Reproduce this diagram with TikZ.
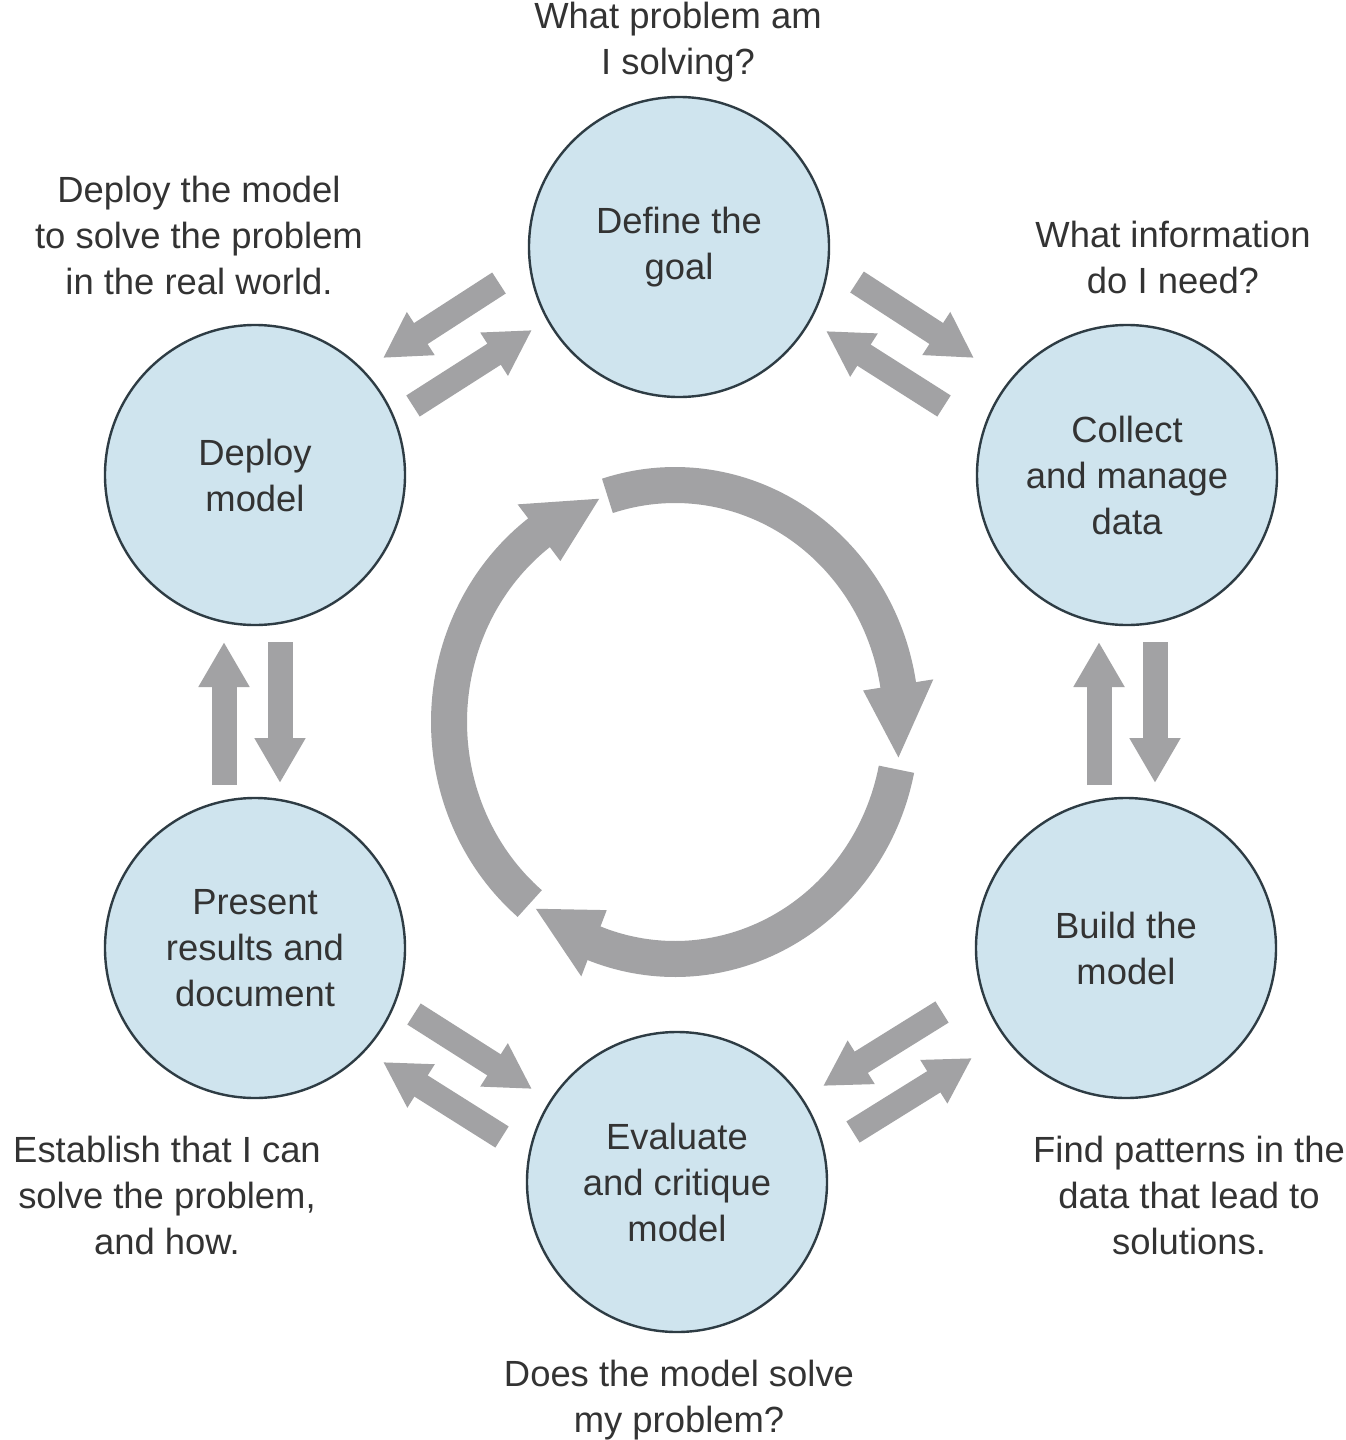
\documentclass[tikz,border=0pt]{standalone}
\usepackage{fontspec}
\setmainfont{Liberation Sans}
\usetikzlibrary{arrows.meta}
\definecolor{cfill}{HTML}{CFE4EE}
\definecolor{cline}{HTML}{2E3C44}
\definecolor{agray}{HTML}{A2A2A4}
\definecolor{txt}{HTML}{333333}
\newcommand\ringarrow[3]{%
  \draw[ring] plot[domain={#2-0.6}:#1, samples=70] ({675+226*cos(\x)},{722-237*sin(\x)});
  \fill[agray] ({675+(226+35.5)*cos(#2)},{722-(237+35.5)*sin(#2)})
    -- ({675+(226-35.5)*cos(#2)},{722-(237-35.5)*sin(#2)})
    -- ({675+226*cos(#3)},{722-237*sin(#3)}) -- cycle;}
\begin{document}
\begin{tikzpicture}[x=0.5pt,y=-0.5pt,
  stage/.style={circle, draw=cline, line width=1.2pt, fill=cfill, minimum size=150pt,
    inner sep=0pt, align=center, text=txt, font=\fontsize{18.2}{23}\selectfont},
  note/.style={align=center, text=txt, font=\fontsize{18.2}{23}\selectfont, inner sep=0pt},
  flow/.style={draw=agray, line width=12.5pt, -{Triangle[width=24pt,length=22.5pt]}},
  ring/.style={draw=agray, line width=18pt},
]
\useasboundingbox (0,0) rectangle (1345,1440);
\fill[white] (0,0) rectangle (1345,1440);

% central cycle
\ringarrow{107.4}{9}{-8.6}
\ringarrow{-11.5}{-111}{-128}
\ringarrow{-130}{-233}{-250.4}

% stages
\node[stage] (goal) at (679,247) {Define the\\goal};
\node[stage] (collect) at (1127,475) {Collect\\and manage\\data};
\node[stage] (build) at (1126,948) {Build the\\model};
\node[stage] (eval) at (677,1182) {Evaluate\\and critique\\model};
\node[stage] (present) at (255,948) {Present\\results and\\document};
\node[stage] (deploy) at (255,475) {Deploy\\model};

% notes
\node[note] (qgoal) at (678,42) {What problem am\\I solving?};
\node[note] (qdeploy) at (199,235) {Deploy the model\\to solve the problem\\in the real world.};
\node[note] (qcollect) at (1173,257) {What information\\do I need?};
\node[note] (qpresent) at (167,1195) {Establish that I can\\solve the problem,\\and how.};
\node[note] (qbuild) at (1189,1195) {Find patterns in the\\data that lead to\\solutions.};
\node[note] (qeval) at (679,1400) {Does the model solve\\my problem?};

% arrow end points
\coordinate (a1s) at (499,283);  \coordinate (a1e) at (383,358);
\coordinate (a2s) at (413,406);  \coordinate (a2e) at (532,330);
\coordinate (a3s) at (857,282);  \coordinate (a3e) at (974,358);
\coordinate (a4s) at (944,406);  \coordinate (a4e) at (826,331);
\coordinate (a5s) at (1099,785); \coordinate (a5e) at (1099,642);
\coordinate (a6s) at (1155,642); \coordinate (a6e) at (1155,783);
\coordinate (a7s) at (942,1012); \coordinate (a7e) at (823,1086);
\coordinate (a8s) at (853,1132); \coordinate (a8e) at (972,1058);
\coordinate (a9s) at (414,1014); \coordinate (a9e) at (532,1089);
\coordinate (a10s) at (502,1137); \coordinate (a10e) at (383,1062);
\coordinate (a11s) at (224,785); \coordinate (a11e) at (224,642);
\coordinate (a12s) at (280,642); \coordinate (a12e) at (280,783);

\foreach \i in {1,...,12} {\draw[flow] (a\i s) -- (a\i e);}
\end{tikzpicture}
\end{document}
